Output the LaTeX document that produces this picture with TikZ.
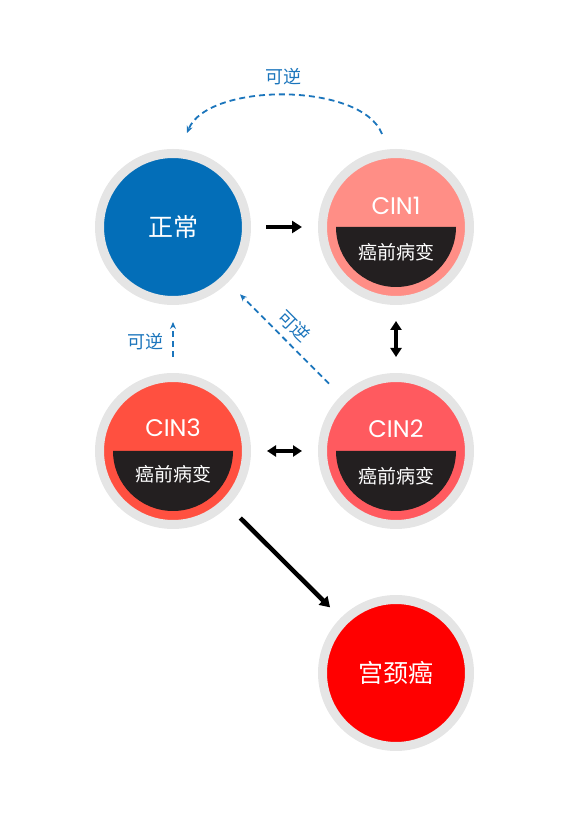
\documentclass[tikz,border=0pt]{standalone}
\usepackage{fontspec}
\newfontfamily\cjk{Noto Sans CJK SC}
\newfontfamily\lat{Poppins}
\usetikzlibrary{arrows.meta}
\definecolor{ringgray}{HTML}{E5E5E5}
\definecolor{normblue}{HTML}{036EB8}
\definecolor{cinone}{HTML}{FF8E86}
\definecolor{cintwo}{HTML}{FF5A5F}
\definecolor{cinthree}{HTML}{FF5040}
\definecolor{cancerred}{HTML}{FF0000}
\definecolor{segblack}{HTML}{231F20}
\definecolor{dashblue}{HTML}{1B75BC}
\tikzset{
  stage/.style={circle, draw=ringgray, line width=9pt, minimum size=147pt, inner sep=0pt},
  bigarrow/.style={line width=4.5pt, -{Triangle[length=10pt,width=12pt]}},
  dblarrow/.style={line width=4pt, {Triangle[length=9pt,width=11pt]}-{Triangle[length=9pt,width=11pt]}},
  revarrow/.style={dashblue, line width=1.8pt, dash pattern=on 6pt off 4pt, -{Stealth[length=7pt,width=6pt]}},
  revlabel/.style={text=dashblue, font=\cjk\fontsize{18pt}{20pt}\selectfont},
  cintext/.style={text=white, font=\lat\fontsize{24pt}{28pt}\selectfont},
  segtext/.style={text=white, font=\cjk\fontsize{19pt}{22pt}\selectfont},
  maintext/.style={text=white, font=\cjk\fontsize{25pt}{28pt}\selectfont}
}
\newcommand{\lesionseg}[1]{\fill[segblack] ([xshift=-60pt]#1.center) arc[start angle=180,end angle=360,radius=60pt] -- cycle;}
\begin{document}
\begin{tikzpicture}[x=1pt,y=1pt]
\useasboundingbox (0,0) rectangle (567,836);
% stages
\node[stage, fill=normblue] (n0) at (173,609) {};
\node[stage, fill=cinone] (n1) at (396,609) {};
\node[stage, fill=cinthree] (n3) at (173,385) {};
\node[stage, fill=cintwo] (n2) at (396,385) {};
\node[stage, fill=cancerred] (n4) at (396,163) {};
\lesionseg{n1}
\lesionseg{n2}
\lesionseg{n3}
% texts
\node[maintext] (t0) at (173,609) {正常};
\node[cintext] (t1) at (396,630) {CIN1};
\node[segtext] (s1) at (396,584) {癌前病变};
\node[cintext] (t2) at (396,407) {CIN2};
\node[segtext] (s2) at (396,360) {癌前病变};
\node[cintext] (t3) at (173,408) {CIN3};
\node[segtext] (s3) at (173,362) {癌前病变};
\node[maintext] (t4) at (396,163) {宫颈癌};
% black arrows
\draw[bigarrow, shorten <=15pt, shorten >=16pt] (n0) -- (n1);
\draw[dblarrow, shorten <=16pt, shorten >=16pt] (n1) -- (n2);
\draw[dblarrow, shorten <=16pt, shorten >=16pt] (n3) -- (n2);
\draw[bigarrow, shorten <=17pt, shorten >=15pt] (n3) -- (n4);
% reversible arrows
\coordinate (a1) at (382,702);
\coordinate (a2) at (187,703);
\draw[revarrow] (a1) .. controls (362,754) and (208,754) .. (a2);
\node[revlabel] (l1) at (283,759) {可逆};
\draw[revarrow, shorten <=16pt, shorten >=17pt] (n3) -- (n0);
\node[revlabel] (l2) at (145,494) {可逆};
\draw[revarrow, shorten <=17pt, shorten >=17pt] (n2) -- (n0);
\node[revlabel, rotate=-45] (l3) at (294,510) {可逆};
\end{tikzpicture}
\end{document}
